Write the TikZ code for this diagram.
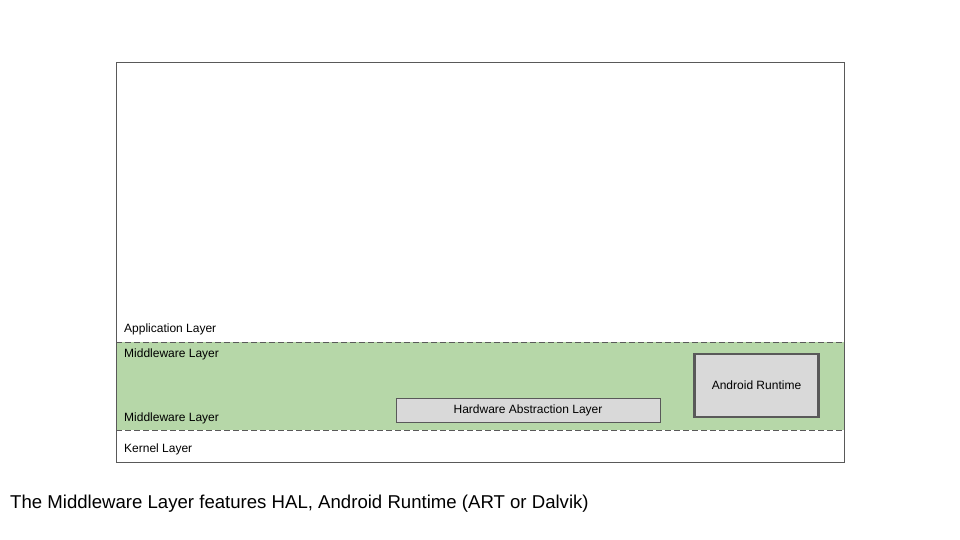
\documentclass[tikz,border=0pt]{standalone}
\usepackage{fontspec}
\setmainfont{Liberation Sans}
\begin{document}
\begin{tikzpicture}[x=1pt,y=-1pt,
  lbl/.style={anchor=west,font=\fontsize{12}{14}\selectfont,inner sep=0pt},
  dashline/.style={draw=bordergray,line width=0.8pt,dash pattern=on 6pt off 3pt},
  graybox/.style={draw=bordergray,fill=black!15,inner sep=0pt,font=\fontsize{12}{14}\selectfont}]
\definecolor{midgreen}{HTML}{B6D7A8}
\definecolor{bordergray}{HTML}{595959}
\useasboundingbox (0,0) rectangle (960,540);
\fill[fill=white] (0,0) rectangle (960,540);
\fill[midgreen] (116,342) rectangle (844,430);
\node[draw=bordergray,line width=0.8pt,minimum width=728pt,minimum height=400pt,inner sep=0pt,anchor=north west] (outer) at (116,62) {};
\coordinate (d1l) at (116,342); \coordinate (d1r) at (844,342);
\coordinate (d2l) at (116,430); \coordinate (d2r) at (844,430);
\draw[dashline] (d1l) -- (d1r);
\draw[dashline] (d2l) -- (d2r);
\node[lbl] (app) at (124,329) {Application Layer};
\node[lbl] (mid1) at (124,354) {Middleware Layer};
\node[lbl] (mid2) at (124,418) {Middleware Layer};
\node[lbl] (kern) at (124,449) {Kernel Layer};
\node[graybox,line width=0.8pt,minimum width=264pt,minimum height=24pt] (hal) at (528,410) {Hardware Abstraction Layer};
\node[graybox,line width=2.5pt,minimum width=124pt,minimum height=63pt] (art) at (756.5,385.5) {Android Runtime};
\node[anchor=west,inner sep=0pt,font=\fontsize{18.6}{22}\selectfont] (cap) at (10,504) {The Middleware Layer features HAL, Android Runtime (ART or Dalvik)};
\end{tikzpicture}
\end{document}
